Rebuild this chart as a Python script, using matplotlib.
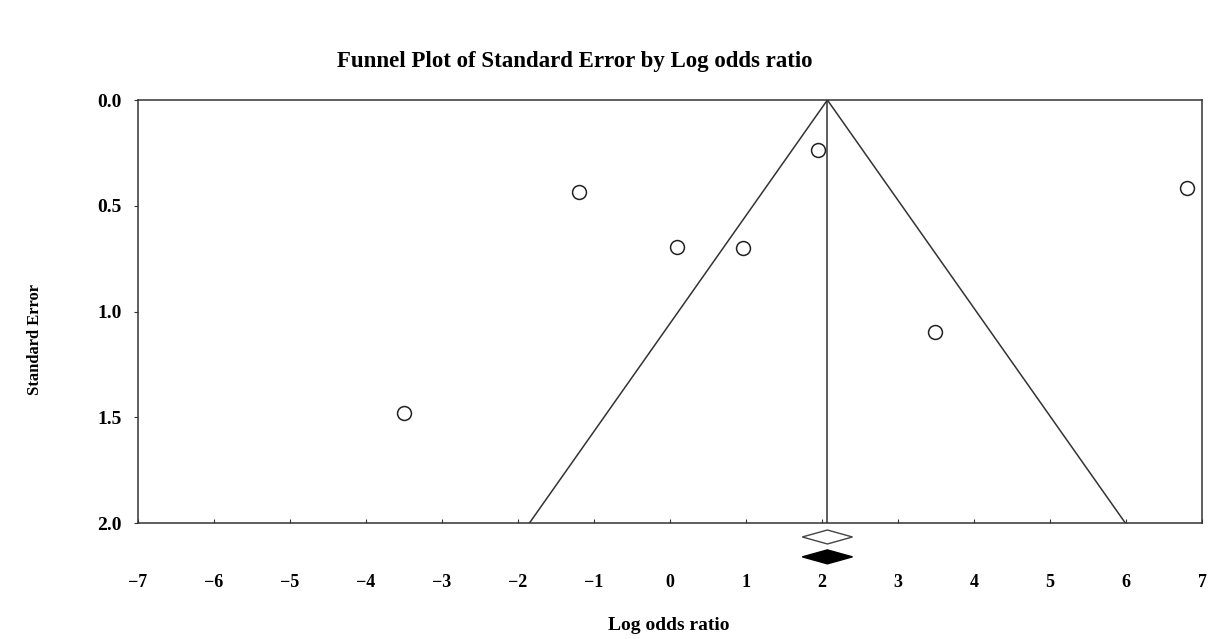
import matplotlib

matplotlib.use("Agg")
import matplotlib.pyplot as plt

# study-level estimates
log_or = [1.94, -1.20, 0.09, 0.96, 6.80, 3.49, -3.50]
std_err = [0.236, 0.435, 0.695, 0.70, 0.416, 1.097, 1.48]

summary_est = 2.07
summary_lo = 1.74
summary_hi = 2.40
se_max = 2.0

x_ticks = [-7, -6, -5, -4, -3, -2, -1, 0, 1, 2, 3, 4, 5, 6, 7]
x_labels = ["\u22127", "\u22126", "\u22125", "\u22124", "\u22123", "\u22122", "\u22121",
            "0", "1", "2", "3", "4", "5", "6", "7"]
y_ticks = [0.0, 0.5, 1.0, 1.5, 2.0]

plt.rcParams["font.family"] = ["Liberation Serif", "DejaVu Serif"]
plt.rcParams["font.weight"] = "bold"

fig = plt.figure(figsize=(12.13, 6.39), dpi=100)
ax = fig.add_axes([0.1138, 0.1815, 0.8772, 0.662])
line_col = "#333333"

# funnel (95% pseudo confidence limits) and summary line
ax.plot([summary_est - 1.96 * se_max, summary_est, summary_est + 1.96 * se_max],
        [se_max, 0, se_max], color=line_col, lw=1.1)
ax.plot([summary_est, summary_est], [0, se_max], color=line_col, lw=1.1)

ax.plot(log_or, std_err, "o", ms=10, mfc="white", mec="#222222", mew=1.1, clip_on=False)

# summary diamonds below the axis
mid = (summary_lo + summary_hi) / 2
h = 0.033
ax.fill([summary_lo, mid, summary_hi, mid], [2.066, 2.066 - h, 2.066, 2.066 + h],
        facecolor="white", edgecolor="#444444", lw=1.0, clip_on=False)
ax.fill([summary_lo, mid, summary_hi, mid], [2.16, 2.16 - h, 2.16, 2.16 + h],
        facecolor="black", edgecolor="black", lw=1.0, clip_on=False)

ax.set_xlim(-7, 7)
ax.set_ylim(se_max, 0)
ax.set_xticks(x_ticks)
ax.set_xticklabels(x_labels)
ax.set_yticks(y_ticks)
ax.set_yticklabels([f"{v:.1f}" for v in y_ticks])
ax.tick_params(axis="x", direction="in", length=3, pad=37, labelsize=13, colors=line_col,
               labelcolor="black")
ax.tick_params(axis="y", direction="out", length=3, pad=9, labelsize=14, colors=line_col,
               labelcolor="black")
for s in ax.spines.values():
    s.set_color(line_col)
    s.set_linewidth(1.1)

fig.text(0.474, 0.903, "Funnel Plot of Standard Error by Log odds ratio",
         ha="center", va="center", fontsize=16.5, fontweight="bold")
fig.text(0.029, 0.468, "Standard Error", rotation=90, ha="center", va="center",
         fontsize=12, fontweight="bold")
fig.text(0.551, 0.021, "Log odds ratio", ha="center", va="center",
         fontsize=14, fontweight="bold")

fig.savefig("out.png", dpi=100)
plt.close(fig)
